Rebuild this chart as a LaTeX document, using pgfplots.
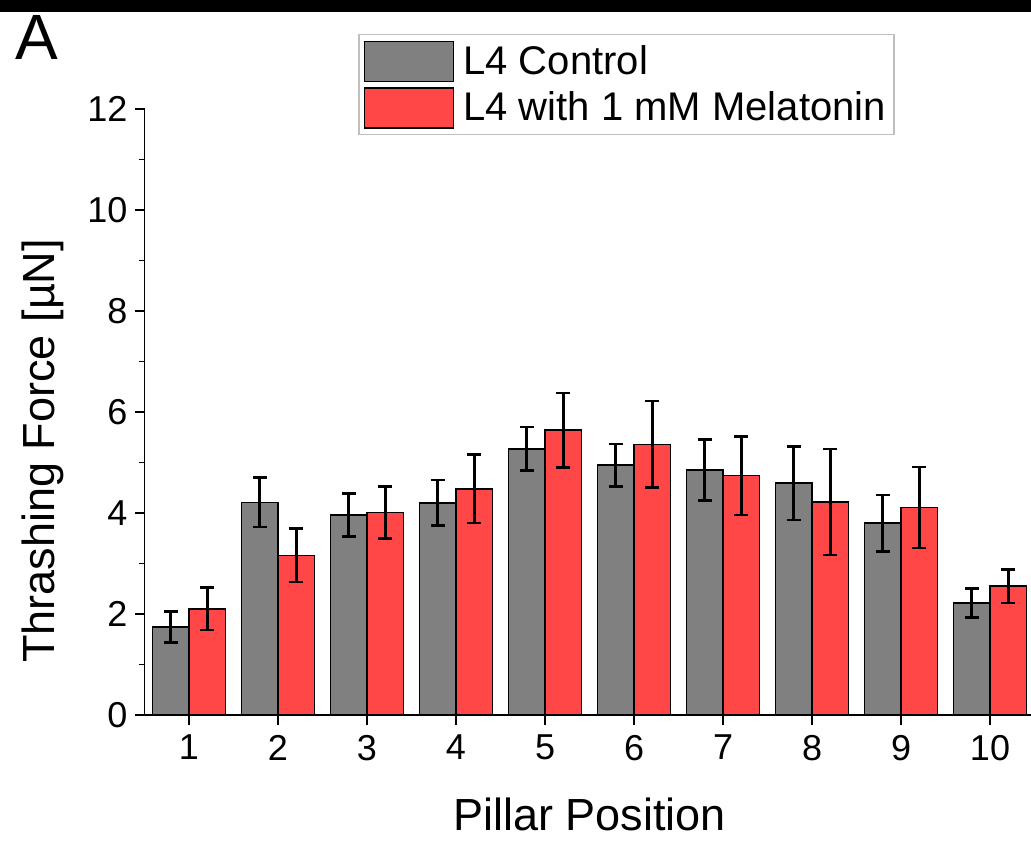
\documentclass[border=0pt]{standalone}
\usepackage{fontspec}
\setmainfont{Liberation Sans}
\usepackage{pgfplots}
\usepackage{pgfplotstable}
\pgfplotsset{compat=1.18}
\definecolor{cgray}{RGB}{128,128,128}
\definecolor{cred}{RGB}{255,71,71}
\pgfplotstableread{
x g ge r re
1 1.74 0.31 2.10 0.42
2 4.21 0.49 3.16 0.53
3 3.96 0.43 4.01 0.51
4 4.20 0.45 4.48 0.68
5 5.27 0.43 5.64 0.74
6 4.95 0.42 5.36 0.86
7 4.85 0.60 4.74 0.78
8 4.59 0.73 4.22 1.05
9 3.80 0.56 4.11 0.80
10 2.22 0.29 2.55 0.33
}\data
\begin{document}
\begin{tikzpicture}
\useasboundingbox (0,0) rectangle (515.5pt,420pt);
\fill[black] (0,414pt) rectangle (515.5pt,420pt);
\node[anchor=base west, inner sep=0pt, font=\fontsize{32}{32}\selectfont] at (7.5pt,390pt) {A};
\begin{axis}[
  at={(72.25pt,62.5pt)}, anchor=south west,
  scale only axis, width=445pt, height=303pt,
  xmin=0.5, xmax=10.5, ymin=0, ymax=12,
  axis x line*=bottom, axis y line*=left,
  xtick={1,...,10}, ytick={0,2,...,12}, minor y tick num=1,
  tick align=outside, major tick length=5pt, minor tick length=3pt,
  tick style={line width=0.75pt, black},
  axis line style={line width=0.75pt, black},
  ticklabel style={font=\fontsize{18}{20}\selectfont},
  /pgf/number format/assume math mode=true,
  xticklabel style={yshift=-1.5pt},
  xlabel={Pillar Position}, ylabel={Thrashing Force [µN]},
  label style={font=\fontsize{22.5}{24}\selectfont},
  xlabel style={at={(axis description cs:0.5,-0.19)}, anchor=base},
  ylabel style={at={(axis description cs:-0.114,0.436)}, anchor=center},
  ybar, bar width=0.41,
  legend style={at={(axis description cs:0.24,1.124)}, anchor=north west,
    draw=gray!50, line width=0.8pt, font=\fontsize{20}{22}\selectfont,
    inner xsep=2.5pt, inner ysep=3pt, row sep=2.5pt,
    nodes={inner sep=1.5pt},
    /tikz/every odd column/.append style={column sep=3pt}},
  legend cell align=left,
  legend image code/.code={\draw[#1, line width=0.75pt] (0pt,-10pt) rectangle (44.5pt,10pt);},
]
\addplot[fill=cgray, draw=black, line width=0.75pt, bar shift=-0.205,
  error bars/.cd, y dir=both, y explicit,
  error bar style={line width=1.3pt, black},
  error mark options={rotate=90, mark size=3.5pt, line width=1.3pt, black}]
  table[x=x, y=g, y error=ge] {\data};
\addlegendentry{L4 Control}
\addplot[fill=cred, draw=black, line width=0.75pt, bar shift=0.205,
  error bars/.cd, y dir=both, y explicit,
  error bar style={line width=1.3pt, black},
  error mark options={rotate=90, mark size=3.5pt, line width=1.3pt, black}]
  table[x=x, y=r, y error=re] {\data};
\addlegendentry{L4 with 1 mM Melatonin}
\end{axis}
\end{tikzpicture}
\end{document}
